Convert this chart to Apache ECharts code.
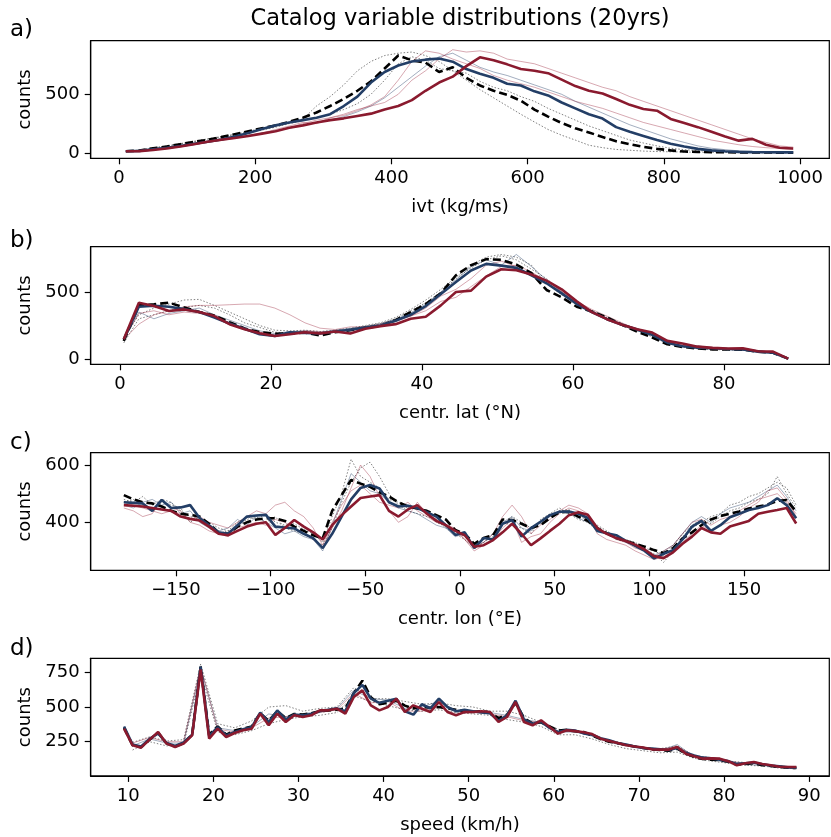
<!DOCTYPE html>
<html><head><meta charset="utf-8">
<script src="https://cdn.jsdelivr.net/npm/echarts@6/dist/echarts.min.js"></script>
<style>html,body{margin:0;padding:0;background:#fff}#c{width:831px;height:837px}</style>
</head><body><div id="c"></div>
<script>
// ---------- panel a: ivt ----------
const ivtBins = [10,30,50,70,90,110,130,150,170,190,210,230,250,270,290,310,330,350,370,390,410,430,450,470,490,510,530,550,570,590,610,630,650,670,690,710,730,750,770,790,810,830,850,870,890,910,930,950,970,990];
const ivtBlack = [15,20,40,55,75,95,112,135,160,185,210,235,265,300,345,400,460,530,610,720,830,790,770,690,730,640,575,530,495,445,370,310,255,210,175,136,100,75,52,35,22,12,9,7,6,5,4,4,3,3];
const ivtBlue = [15,18,32,45,60,78,95,115,140,170,205,235,260,280,300,330,400,480,600,690,745,780,795,805,778,715,675,640,590,575,525,490,430,380,330,293,220,180,145,110,78,55,35,22,15,9,7,6,5,5];
const ivtRed = [14,16,25,38,55,75,95,112,128,145,165,185,215,235,260,280,295,315,335,370,400,450,530,600,650,740,815,790,755,715,700,680,625,570,530,506,460,410,375,360,290,255,220,180,140,105,120,70,45,38];
const ivtGray1 = [15,25,45,60,80,100,120,140,160,185,210,235,260,290,400,480,580,700,780,830,850,860,830,780,700,620,540,470,400,330,264,200,151,110,66,45,30,23,16,12,10,8,6,5,4,3,3,2,2,2];
const ivtGray2 = [12,22,38,58,78,95,118,135,155,175,195,220,250,275,300,330,370,420,500,620,760,820,790,720,700,680,610,560,530,480,440,380,330,280,230,190,150,110,85,60,40,28,20,14,10,8,6,5,4,3];
const ivtBlue1 = [14,20,30,45,62,80,95,110,130,150,170,190,210,235,260,280,310,350,400,470,560,650,740,820,850,790,730,690,660,620,580,540,500,440,390,340,290,240,200,160,120,90,60,40,28,18,12,9,7,6];
const ivtPink1 = [12,18,25,40,55,70,90,105,125,145,170,200,230,260,250,300,330,370,400,430,500,620,700,800,880,860,870,850,800,780,760,720,680,640,600,560,530,480,440,400,360,320,280,240,200,160,120,90,60,50];
const ivtPink2 = [15,20,30,42,58,75,92,110,130,150,165,185,215,250,280,300,320,360,410,480,620,780,870,850,800,760,720,660,620,590,560,520,480,440,410,380,340,300,260,230,200,170,140,110,90,70,55,45,38,30];

// ---------- panel b: centroid latitude ----------
const latBins = [0.5,2.5,4.5,6.5,8.5,10.5,12.5,14.5,16.5,18.5,20.5,22.5,24.5,26.5,28.5,30.5,32.5,34.5,36.5,38.5,40.5,42.5,44.5,46.5,48.5,50.5,52.5,54.5,56.5,58.5,60.5,62.5,64.5,66.5,68.5,70.5,72.5,74.5,76.5,78.5,80.5,82.5,84.5,86.5,88.5];
const latBlack = [135,400,408,420,385,350,325,275,228,200,188,190,197,175,200,215,232,247,290,350,410,490,625,700,745,740,705,640,515,460,390,355,310,255,205,160,110,90,78,72,72,70,55,47,3];
const latBlue = [147,390,397,390,372,350,310,265,225,185,172,200,195,190,205,218,235,250,285,330,395,485,575,660,710,697,680,625,565,490,410,350,297,255,220,180,122,95,85,80,75,72,55,47,3];
const latRed = [147,420,395,358,370,350,320,260,222,192,172,185,200,190,205,190,225,245,260,300,315,400,500,510,615,670,662,630,585,520,430,350,297,255,222,197,135,115,92,83,78,80,58,55,3];
const latGray1 = [150,330,380,410,440,445,400,350,300,250,215,210,215,205,215,230,250,270,310,370,440,520,610,700,760,780,760,700,560,480,410,360,310,260,215,170,120,95,80,70,68,65,55,45,3];
const latGray2 = [120,300,330,360,385,400,380,330,270,235,200,195,200,190,210,225,245,265,300,360,420,500,600,680,740,770,740,670,600,500,420,350,300,250,210,165,115,90,75,70,72,68,52,45,3];
const latBlue1 = [140,350,300,340,360,380,330,290,250,210,190,205,210,200,215,228,242,262,295,345,410,500,590,690,740,700,780,690,590,500,405,360,300,255,215,175,120,95,100,78,74,70,55,46,3];
const latPink1 = [145,260,330,360,390,400,400,405,410,410,380,330,270,230,220,240,240,250,280,320,360,430,460,540,620,690,700,650,580,520,430,370,320,270,220,180,125,100,85,75,72,66,56,46,3];
const latPink2 = [150,340,360,330,350,340,320,270,230,200,180,195,210,205,200,220,240,260,290,320,380,470,520,600,700,730,690,620,570,505,420,360,305,260,225,190,130,100,90,80,78,70,55,50,3];

// ---------- panel c: centroid longitude ----------
const lonBins = [-177.5,-172.5,-167.5,-162.5,-157.5,-152.5,-147.5,-142.5,-137.5,-132.5,-127.5,-122.5,-117.5,-112.5,-107.5,-102.5,-97.5,-92.5,-87.5,-82.5,-77.5,-72.5,-67.5,-62.5,-57.5,-52.5,-47.5,-42.5,-37.5,-32.5,-27.5,-22.5,-17.5,-12.5,-7.5,-2.5,2.5,7.5,12.5,17.5,22.5,27.5,32.5,37.5,42.5,47.5,52.5,57.5,62.5,67.5,72.5,77.5,82.5,87.5,92.5,97.5,102.5,107.5,112.5,117.5,122.5,127.5,132.5,137.5,142.5,147.5,152.5,157.5,162.5,167.5,172.5,177.5];
const lonBlack = [495,480,470,466,455,440,430,426,420,395,365,360,385,400,410,414,414,405,385,370,355,344,440,495,548,535,524,505,490,470,455,448,440,425,410,373,360,325,345,355,410,408,395,380,390,415,435,437,420,405,380,362,345,335,325,315,303,292,310,344,365,390,410,422,430,438,448,455,462,475,478,437];
const lonBlue = [470,468,466,440,478,450,452,460,415,390,365,360,390,420,424,426,385,382,379,360,345,310,360,420,480,520,530,518,470,455,458,450,435,420,390,356,365,310,345,340,395,408,350,380,402,425,437,438,430,415,370,362,355,335,318,300,274,290,303,340,385,405,370,390,418,430,443,450,460,484,460,414];
const lonRed = [460,458,455,450,445,440,420,412,406,385,360,355,370,385,395,400,356,380,408,385,365,340,390,425,455,485,490,495,440,420,445,460,430,405,390,370,355,315,320,338,365,395,360,320,344,370,395,425,435,426,380,360,345,335,322,305,282,275,295,325,350,380,365,360,385,395,405,430,437,443,450,396];
const lonGray1 = [480,470,490,460,480,470,440,420,410,400,380,370,400,420,410,430,400,390,395,375,360,330,420,500,620,560,540,520,480,470,450,455,430,400,385,370,350,320,340,360,390,420,400,380,395,420,440,445,420,410,390,370,350,340,330,310,300,285,320,360,390,410,395,420,440,450,470,480,500,560,500,450];
const lonGray2 = [470,480,460,440,470,460,450,400,420,380,360,370,380,410,420,400,420,380,370,360,340,320,380,470,540,590,610,560,500,460,440,430,420,410,380,360,340,310,330,350,400,390,380,360,410,430,450,430,410,400,370,365,345,335,320,305,290,260,300,350,380,400,420,430,460,470,490,500,520,540,520,460];
const lonBlue1 = [460,450,470,480,460,470,430,440,400,380,370,380,410,390,420,400,380,360,370,350,340,300,390,480,570,540,510,500,470,450,440,430,410,390,380,350,360,320,330,360,400,420,380,370,400,420,440,430,415,400,380,360,345,330,320,300,285,300,320,360,400,420,400,430,450,460,470,490,510,530,490,440];
const lonPink1 = [450,440,420,430,480,450,440,400,390,370,360,350,380,390,400,390,410,400,380,360,340,310,380,440,520,600,560,490,440,400,420,470,430,410,390,380,340,300,320,340,380,410,330,350,360,400,430,450,440,420,360,340,330,320,300,285,270,280,300,330,360,390,370,390,400,420,450,470,510,520,480,420];
const lonPink2 = [470,460,450,440,430,440,430,410,420,400,390,380,400,420,440,430,460,470,440,420,380,320,400,460,510,530,500,470,460,450,470,440,420,400,390,370,340,310,330,360,420,460,420,360,390,410,440,460,450,430,380,360,340,330,310,300,280,300,320,360,400,410,390,410,420,440,460,480,490,500,470,430];

// ---------- panel d: speed ----------
const spdBins = [9.5,10.5,11.5,12.5,13.5,14.5,15.5,16.5,17.5,18.5,19.5,20.5,21.5,22.5,23.5,24.5,25.5,26.5,27.5,28.5,29.5,30.5,31.5,32.5,33.5,34.5,35.5,36.5,37.5,38.5,39.5,40.5,41.5,42.5,43.5,44.5,45.5,46.5,47.5,48.5,49.5,50.5,51.5,52.5,53.5,54.5,55.5,56.5,57.5,58.5,59.5,60.5,61.5,62.5,63.5,64.5,65.5,66.5,67.5,68.5,69.5,70.5,71.5,72.5,73.5,74.5,75.5,76.5,77.5,78.5,79.5,80.5,81.5,82.5,83.5,84.5,85.5,86.5,87.5,88.5];
const spdBlack = [350,225,210,265,315,238,215,240,300,790,300,360,300,330,345,360,455,400,470,420,450,445,455,470,475,480,490,600,690,570,520,530,545,510,490,500,495,500,490,480,470,465,470,460,420,445,530,420,380,390,360,330,335,325,320,295,270,250,240,225,215,205,195,190,185,200,165,140,125,120,118,105,85,90,95,80,75,68,63,60];
const spdBlue = [360,230,215,270,310,240,220,245,300,790,290,355,295,320,340,355,460,390,475,410,445,440,450,470,480,490,470,600,660,560,530,545,560,470,445,520,490,560,500,470,480,470,460,455,400,440,545,410,380,395,350,320,335,330,310,300,275,260,240,230,215,205,200,195,190,205,170,150,135,130,120,110,90,95,100,88,78,72,65,62];
const spdRed = [344,224,207,265,320,236,212,236,296,770,272,344,284,313,332,344,452,368,452,392,440,428,440,476,476,488,452,572,620,512,476,500,560,464,512,488,464,536,464,440,464,464,470,464,392,428,536,392,368,404,356,308,332,326,318,305,272,255,240,224,215,208,195,193,193,212,164,145,128,130,128,110,80,95,104,90,80,70,68,68];
const spdThinBins = [10.5,12.5,14.5,16.5,18.5,20.5,22.5,24.5,26.5,28.5,30.5,32.5,34.5,36.5,38.5,40.5,42.5,44.5,46.5,48.5,50.5,52.5,54.5,56.5,58.5,60.5,62.5,64.5,66.5,68.5,70.5,72.5,74.5,76.5,78.5,80.5,82.5,84.5,86.5,88.5];
const spdGray1 = [245,285,255,265,810,380,350,400,500,510,470,490,500,640,560,560,540,520,530,510,500,470,470,440,390,340,325,300,255,230,205,200,220,150,135,110,100,90,75,65];
const spdGray2 = [190,250,220,230,740,320,300,330,380,410,430,440,460,580,540,510,480,470,480,460,450,440,410,390,360,300,300,270,230,200,185,170,175,130,110,95,80,75,60,55];
const spdBlue1 = [220,270,240,240,780,350,330,360,450,430,450,470,490,620,560,550,490,500,540,470,470,460,440,410,390,320,320,290,245,220,200,185,230,140,120,100,85,80,65,58];
const spdPink1 = [240,280,250,250,790,340,320,350,420,430,440,460,480,600,530,540,470,470,500,450,460,450,430,400,390,320,325,295,250,225,210,195,215,150,130,110,95,88,75,70];

const FONT = 'DejaVu Sans';
const COL = {
  red: '#8a1a2e', blue: '#233e66', black: '#000000',
  pink: 'rgba(150,25,50,0.38)', lblue: 'rgba(35,62,102,0.42)', gray: 'rgba(90,90,90,0.85)'
};

function pts(xs, ys) { return xs.map((x, i) => [x, ys[i]]); }
const fmt = v => String(v).replace('-', '\u2212');

const panels = [
  { top: 40.7, xmin: -41.6, xmax: 1043, ymin: -45.5, ymax: 956.6,
    xt: [0,200,400,600,800,1000], yt: [0,500], xname: 'ivt (kg/ms)', letter: 'a)', ly: 29,
    bins: ivtBins, tbins: ivtBins,
    grays: [ivtGray1, ivtGray2], blues: [ivtBlue1], pinks: [ivtPink1, ivtPink2],
    black: ivtBlack, blue: ivtBlue, red: ivtRed },
  { top: 246.7, xmin: -3.88, xmax: 93.95, ymin: -39.6, ymax: 838,
    xt: [0,20,40,60,80], yt: [0,500], xname: 'centr. lat (°N)', letter: 'b)', ly: 240,
    bins: latBins, tbins: latBins,
    grays: [latGray1, latGray2], blues: [latBlue1], pinks: [latPink1, latPink2],
    black: latBlack, blue: latBlue, red: latRed },
  { top: 452.7, xmin: -195, xmax: 195, ymin: 232.5, ymax: 643,
    xt: [-150,-100,-50,0,50,100,150], yt: [400,600], xname: 'centr. lon (°E)', letter: 'c)', ly: 442,
    bins: lonBins, tbins: lonBins,
    grays: [lonGray1, lonGray2], blues: [lonBlue1], pinks: [lonPink1, lonPink2],
    black: lonBlack, blue: lonBlue, red: lonRed },
  { top: 658.3, xmin: 5.58, xmax: 92.37, ymin: 3.6, ymax: 851,
    xt: [10,20,30,40,50,60,70,80,90], yt: [250,500,750], xname: 'speed (km/h)', letter: 'd)', ly: 648,
    bins: spdBins, tbins: spdThinBins,
    grays: [spdGray1, spdGray2], blues: [spdBlue1], pinks: [spdPink1],
    black: spdBlack, blue: spdBlue, red: spdRed }
];

const grid = [], xAxis = [], yAxis = [], series = [], graphic = [];
const textBase = { fontFamily: FONT, color: '#000', fontSize: 18 };

panels.forEach((p, i) => {
  grid.push({ left: 90.7, width: 738.6, top: p.top, height: 117.6,
    show: true, borderColor: '#000', borderWidth: 1.2, backgroundColor: 'transparent', containLabel: false });
  xAxis.push({ gridIndex: i, type: 'value', min: p.xmin, max: p.xmax,
    axisLine: { show: true, onZero: false, lineStyle: { color: '#000', width: 1.2 } },
    axisTick: { show: true, length: 6, lineStyle: { color: '#000', width: 1.2 }, customValues: p.xt },
    axisLabel: { ...textBase, margin: 11, customValues: p.xt, formatter: fmt },
    splitLine: { show: false },
    name: p.xname, nameLocation: 'middle', nameGap: 40, nameTextStyle: { ...textBase } });
  yAxis.push({ gridIndex: i, type: 'value', min: p.ymin, max: p.ymax,
    axisLine: { show: true, onZero: false, lineStyle: { color: '#000', width: 1.2 } },
    axisTick: { show: true, length: 6, lineStyle: { color: '#000', width: 1.2 }, customValues: p.yt },
    axisLabel: { ...textBase, margin: 11, customValues: p.yt, formatter: fmt },
    splitLine: { show: false },
    name: 'counts', nameLocation: 'middle', nameGap: 50, nameTextStyle: { ...textBase } });

  const base = { type: 'line', xAxisIndex: i, yAxisIndex: i, showSymbol: false, symbol: 'none', silent: true, animation: false };
  p.grays.forEach(g => series.push({ ...base, data: pts(p.tbins, g), lineStyle: { color: COL.gray, width: 0.9, type: [1.5, 1.8] }, z: 2 }));
  p.blues.forEach(g => series.push({ ...base, data: pts(p.tbins, g), lineStyle: { color: COL.lblue, width: 1 }, z: 2 }));
  p.pinks.forEach(g => series.push({ ...base, data: pts(p.tbins, g), lineStyle: { color: COL.pink, width: 1 }, z: 2 }));
  series.push({ ...base, data: pts(p.bins, p.black), lineStyle: { color: COL.black, width: 2.6, type: [8, 4] }, z: 3 });
  series.push({ ...base, data: pts(p.bins, p.blue), lineStyle: { color: COL.blue, width: 2.6 }, z: 4 });
  series.push({ ...base, data: pts(p.bins, p.red), lineStyle: { color: COL.red, width: 2.6 }, z: 5 });

  graphic.push({ type: 'text', left: 10, top: p.ly - 10,
    style: { text: p.letter, font: '23px "DejaVu Sans"', fill: '#000' } });
});

graphic.push({ type: 'text', x: 460, y: 19,
  style: { text: 'Catalog variable distributions (20yrs)', font: '22.5px "DejaVu Sans"', fill: '#000', textAlign: 'center', textVerticalAlign: 'middle' } });

const chart = echarts.init(document.getElementById('c'), null, { renderer: 'canvas' });
chart.setOption({ animation: false, backgroundColor: '#fff', grid, xAxis, yAxis, series, graphic });
</script>
</body></html>
